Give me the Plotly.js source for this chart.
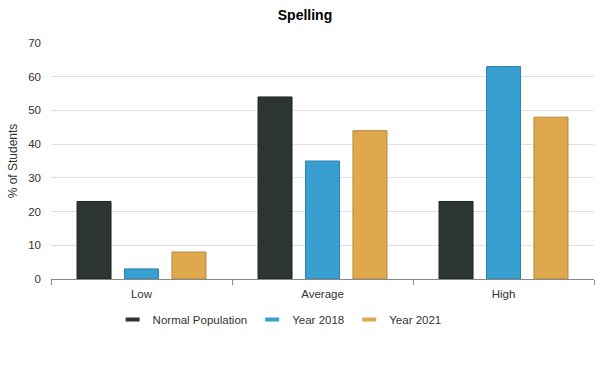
<!DOCTYPE html>
<html>
<head>
<meta charset="utf-8">
<script src="https://cdn.plot.ly/plotly-3.0.1.min.js"></script>
<style>html,body{margin:0;padding:0;background:#fff;}#chart{width:610px;height:382px;}</style>
</head>
<body>
<div id="chart"></div>
<script>
var categories = ["Low", "Average", "High"];
var seriesNames = ["Normal Population", "Year 2018", "Year 2021"];
var normalPopulation = [23, 54, 23];
var year2018 = [3, 35, 63];
var year2021 = [8, 44, 48];
var yTicks = [0, 10, 20, 30, 40, 50, 60, 70];

var fills = ["#2d3533", "#38a0d0", "#e0a84d"];
var edges = ["#1f2523", "#2b82ad", "#b3873c"];
var values = [normalPopulation, year2018, year2021];

var traces = [];
values.forEach(function (v, i) {
  traces.push({
    type: "bar", x: categories, y: v, name: seriesNames[i], showlegend: false,
    marker: {color: fills[i], line: {color: edges[i], width: 1}},
    hoverinfo: "x+y"
  });
});
values.forEach(function (v, i) {
  traces.push({
    type: "scatter", mode: "markers", x: [null], y: [null], name: seriesNames[i],
    marker: {symbol: "line-ew", size: 10, color: fills[i], line: {color: fills[i], width: 4}}
  });
});

var layout = {
  width: 610, height: 382,
  margin: {l: 51, r: 16, t: 43, b: 103},
  paper_bgcolor: "#fff", plot_bgcolor: "#fff",
  font: {family: "Liberation Sans, Arial, sans-serif", size: 11, color: "#333"},
  title: {text: "<b>Spelling</b>", font: {size: 14, color: "#000"}, x: 0.5, xanchor: "center", y: 0.96, yanchor: "middle"},
  barmode: "group", bargap: 0.213, bargroupgap: 0.284,
  xaxis: {
    type: "category", showline: true, linecolor: "#888", linewidth: 1,
    ticks: "outside", tickson: "boundaries", ticklen: 5, tickcolor: "#888",
    tickfont: {size: 11.5, color: "#333"}, showgrid: false, zeroline: false,
    ticklabelstandoff: 4
  },
  yaxis: {
    range: [0, 70], tickvals: yTicks, showline: false, zeroline: false,
    gridcolor: "#e0e0e0", gridwidth: 1, tickfont: {size: 11.5, color: "#333"},
    ticks: "", ticklabelstandoff: 9,
    title: {text: "% of Students", font: {size: 12, color: "#333"}, standoff: 8}
  },
  legend: {orientation: "h", x: 0.421, xanchor: "center", y: -0.11, yanchor: "top",
    font: {size: 11.5, color: "#333"}, itemwidth: 30, tracegroupgap: 0},
  showlegend: true
};

Plotly.newPlot("chart", traces, layout, {displayModeBar: false, staticPlot: true});
</script>
</body>
</html>
